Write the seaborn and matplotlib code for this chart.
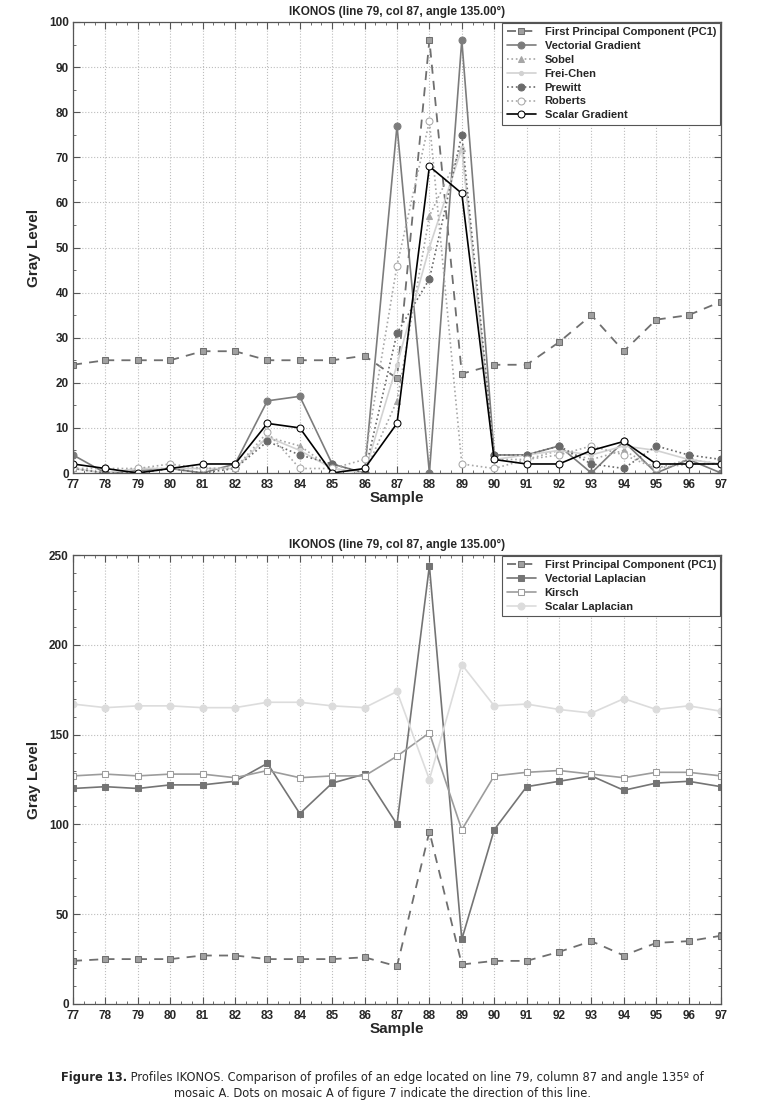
import numpy as np
import pandas as pd
import matplotlib
matplotlib.use("Agg")
import matplotlib.pyplot as plt
import seaborn as sns
from matplotlib.ticker import MultipleLocator

samples = list(range(77, 98))

pc1 = [24, 25, 25, 25, 27, 27, 25, 25, 25, 26, 21, 96, 22, 24, 24, 29, 35, 27, 34, 35, 38]
vectorial_gradient = [4, 0, 0.5, 1, 0, 2, 16, 17, 2, 0, 77, 0, 96, 4, 4, 6, 0, 7, 0, 3, 0]
sobel = [1, 0, 1, 1, 1, 1, 8, 6, 1, 0, 16, 57, 72, 3, 3, 5, 3, 5, 1, 3, 2]
frei_chen = [1, 0, 1, 1, 1, 1, 8, 5, 1, 0, 24, 50, 72, 3, 4, 5, 4, 6, 5, 3, 2]
prewitt = [1, 0, 0, 1, 0, 1, 7, 4, 2, 0, 31, 43, 75, 4, 4, 6, 2, 1, 6, 4, 3]
roberts = [1, 1, 1, 2, 1, 1, 9, 1, 1, 3, 46, 78, 2, 1, 3, 4, 6, 4, 1, 2, 2]
scalar_gradient = [2, 1, 0, 1, 2, 2, 11, 10, 0, 1, 11, 68, 62, 3, 2, 2, 5, 7, 2, 2, 2]

vectorial_laplacian = [120, 121, 120, 122, 122, 124, 134, 106, 123, 128, 100, 244, 36, 97, 121, 124, 127, 119, 123, 124, 121]
kirsch = [127, 128, 127, 128, 128, 126, 130, 126, 127, 127, 138, 151, 97, 127, 129, 130, 128, 126, 129, 129, 127]
scalar_laplacian = [167, 165, 166, 166, 165, 165, 168, 168, 166, 165, 174, 125, 189, 166, 167, 164, 162, 170, 164, 166, 163]

title = "IKONOS (line 79, col 87, angle 135.00°)"

sns.set_style("white")
plt.rcParams['font.family'] = ['Liberation Sans', 'DejaVu Sans']

fig = plt.figure(figsize=(7.65, 11.02), dpi=100)
L, R = 73, 721
ax1 = fig.add_axes([L/765, 1 - 473/1102, (R-L)/765, (473-22)/1102])
ax2 = fig.add_axes([L/765, 1 - 1004/1102, (R-L)/765, (1004-555)/1102])

top_series = [
    ("First Principal Component (PC1)", pc1, dict(color="#6f6f6f", linestyle=(0, (5, 4)), marker="s", markersize=4.5, markerfacecolor="#a0a0a0", markeredgecolor="#6f6f6f", linewidth=1.3)),
    ("Vectorial Gradient", vectorial_gradient, dict(color="#7c7c7c", linestyle="-", marker="o", markersize=5, markerfacecolor="#7c7c7c", markeredgecolor="#7c7c7c", linewidth=1.2)),
    ("Sobel", sobel, dict(color="#a6a6a6", linestyle=":", marker="^", markersize=5, markerfacecolor="#a6a6a6", markeredgecolor="#a6a6a6", linewidth=1.2)),
    ("Frei-Chen", frei_chen, dict(color="#d2d2d2", linestyle="-", marker="o", markersize=3, markerfacecolor="#d2d2d2", markeredgecolor="#d2d2d2", linewidth=1.2)),
    ("Prewitt", prewitt, dict(color="#6a6a6a", linestyle=":", marker="o", markersize=5, markerfacecolor="#6a6a6a", markeredgecolor="#6a6a6a", linewidth=1.2)),
    ("Roberts", roberts, dict(color="#a8a8a8", linestyle=":", marker="o", markersize=5, markerfacecolor="white", markeredgecolor="#a8a8a8", linewidth=1.2)),
    ("Scalar Gradient", scalar_gradient, dict(color="black", linestyle="-", marker="o", markersize=5, markerfacecolor="white", markeredgecolor="black", linewidth=1.2)),
]

bottom_series = [
    ("First Principal Component (PC1)", pc1, dict(color="#6f6f6f", linestyle=(0, (5, 4)), marker="s", markersize=4.5, markerfacecolor="#a0a0a0", markeredgecolor="#6f6f6f", linewidth=1.3)),
    ("Vectorial Laplacian", vectorial_laplacian, dict(color="#747474", linestyle="-", marker="s", markersize=4.5, markerfacecolor="#747474", markeredgecolor="#747474", linewidth=1.2)),
    ("Kirsch", kirsch, dict(color="#9c9c9c", linestyle="-", marker="s", markersize=4.5, markerfacecolor="white", markeredgecolor="#9c9c9c", linewidth=1.2)),
    ("Scalar Laplacian", scalar_laplacian, dict(color="#dcdcdc", linestyle="-", marker="o", markersize=5, markerfacecolor="#dcdcdc", markeredgecolor="#dcdcdc", linewidth=1.2)),
]


def draw(ax, series, ymax, ymajor, yminor):
    for name, vals, kw in series:
        df = pd.DataFrame({"Sample": samples, "Gray Level": vals})
        sns.lineplot(data=df, x="Sample", y="Gray Level", ax=ax, label=name, **kw)
    ax.set_xlim(77, 97)
    ax.set_ylim(0, ymax)
    ax.xaxis.set_major_locator(MultipleLocator(1))
    ax.xaxis.set_minor_locator(MultipleLocator(1/3))
    ax.yaxis.set_major_locator(MultipleLocator(ymajor))
    ax.yaxis.set_minor_locator(MultipleLocator(yminor))
    ax.grid(True, which="major", linestyle=":", color="#bdbdbd", linewidth=0.8)
    ax.tick_params(which="both", direction="in", top=True, right=True, bottom=True, left=True, color="#555555")
    ax.tick_params(which="major", length=5, labelsize=8.5)
    ax.tick_params(axis="x", which="major", pad=4)
    ax.tick_params(axis="y", which="major", pad=3)
    ax.tick_params(which="minor", length=2.5)
    for lab in ax.get_xticklabels() + ax.get_yticklabels():
        lab.set_fontweight("bold")
    for sp in ax.spines.values():
        sp.set_color("#555555")
        sp.set_linewidth(0.9)
    ax.set_xlabel("Sample", fontsize=11, fontweight="bold", labelpad=0)
    ax.set_ylabel("Gray Level", fontsize=11, fontweight="bold", labelpad=6)
    ax.set_title(title, fontsize=8.5, fontweight="bold", pad=5)
    leg = ax.legend(loc="upper right", fontsize=8, frameon=True, fancybox=False,
                    framealpha=1, edgecolor="#555555", borderaxespad=0.05,
                    handlelength=2.6, labelspacing=0.35, borderpad=0.4)
    leg.get_frame().set_linewidth(0.8)
    for t in leg.get_texts():
        t.set_fontweight("bold")


draw(ax1, top_series, 100, 10, 5)
draw(ax2, bottom_series, 250, 50, 10)

# caption
cap_font = ['DejaVu Sans']
fs = 8.3
fig.canvas.draw()
r = fig.canvas.get_renderer()
bold_part = "Figure 13."
rest1 = " Profiles IKONOS. Comparison of profiles of an edge located on line 79, column 87 and angle 135º of"
line2 = "mosaic A. Dots on mosaic A of figure 7 indicate the direction of this line."
tb = fig.text(0, 0, bold_part, fontsize=fs, fontweight="bold", family=cap_font)
tr = fig.text(0, 0, rest1, fontsize=fs, family=cap_font)
wb = tb.get_window_extent(r).width
wr = tr.get_window_extent(r).width
W = fig.bbox.width
x0 = (W - (wb + wr)) / 2
y1 = 1 - 1078/1102
tb.set_position((x0 / W, y1))
tr.set_position(((x0 + wb) / W, y1))
tb.set_va("center"); tr.set_va("center")
fig.text(0.5, 1 - 1093/1102, line2, fontsize=fs, family=cap_font, ha="center", va="center")

fig.savefig("out.png", dpi=100)
